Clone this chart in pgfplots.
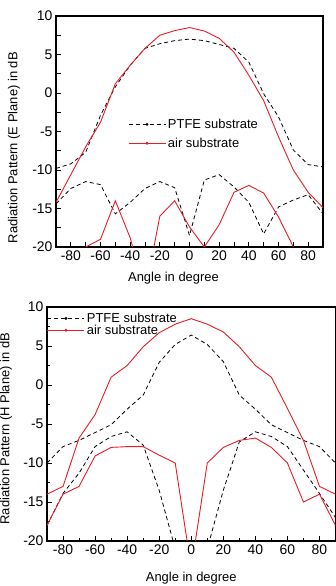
\documentclass[border=0pt]{standalone}
\usepackage{fontspec}
\setmainfont{Liberation Sans}
\usepackage{pgfplots}
\pgfplotsset{compat=1.18}
\definecolor{myred}{RGB}{232,28,36}
\pgfplotsset{
  common/.style={
    scale only axis,
    anchor=south west,
    xmin=-90, xmax=90, ymin=-20, ymax=10,
    ytick={-20,-15,...,10},
    minor ytick={-17.5,-12.5,...,7.5},
    xtick={-80,-60,...,80},
    minor xtick={-90,-70,...,90},
    xtick pos=left, ytick pos=left,
    tick align=inside,
    axis line style={line width=1.1bp},
    major tick style={line width=0.8bp,black},
    minor tick style={line width=0.8bp,black},
    major tick length=5bp,
    /pgf/number format/assume math mode=true,
    tick label style={font=\fontsize{14}{16}\selectfont},
    label style={font=\fontsize{13}{15}\selectfont},
    legend style={font=\fontsize{13}{15}\selectfont, draw=none, fill=none, inner sep=0pt, outer sep=0pt},
    legend cell align=left,
    legend image code/.code={\draw[#1] (0bp,0bp) -- (37bp,0bp); \fill[#1,solid] (18.5bp,0bp) circle (1bp);},
    ptfe/.style={black, dashed, dash pattern=on 4bp off 3bp, line width=0.8bp},
    air/.style={myred, line width=0.9bp},
  }
}
\begin{document}
\begin{tikzpicture}
\path[use as bounding box] (0,0) rectangle (336bp,586bp);
% ---------- E plane ----------
\begin{axis}[common,
  at={(56bp,339bp)}, width=267bp, height=231bp,
  minor tick length=5bp,
  xlabel={Angle in degree},
  ylabel={Radiation Pattern (E Plane) in dB},
  xlabel style={at={(rel axis cs:0.44,0)}, anchor=center, yshift=-31bp},
  ylabel style={at={(rel axis cs:0,0.43)}, anchor=center, yshift=42bp},
  legend style={at={(rel axis cs:0.27,0.563)}, anchor=north west, row sep=4bp},
]
\addplot[ptfe] coordinates {(-90,-9.8) (-80,-9.2) (-70,-7.7) (-60,-2.9) (-50,0.8) (-40,3.6) (-30,5.8) (-20,6.4) (-10,6.8) (0,7.0) (10,6.8) (20,6.3) (30,5.8) (40,4.0) (50,-0.1) (60,-3.1) (70,-7.4) (80,-9.3) (90,-9.6)};
\addlegendentry{PTFE substrate}
\addplot[air] coordinates {(-90,-14.2) (-80,-10.6) (-70,-7.0) (-60,-3.8) (-50,1.2) (-40,3.6) (-30,5.8) (-20,7.5) (-10,8.1) (0,8.5) (10,8.05) (20,7.1) (30,5.3) (40,2.3) (50,-1.0) (60,-5.7) (70,-10.0) (80,-12.9) (90,-14.9)};
\addlegendentry{air substrate}
\addplot[ptfe, forget plot] coordinates {(-90,-14.4) (-80,-12.4) (-70,-11.5) (-60,-11.9) (-50,-15.7) (-40,-14.2) (-30,-12.4) (-20,-11.5) (-10,-12.3) (0,-18.5) (10,-11.3) (20,-10.6) (30,-12.2) (40,-14.2) (50,-18.3) (60,-14.8) (70,-13.9) (80,-13.2) (90,-15.7)};
\addplot[air, forget plot] coordinates {(-70,-20.0) (-60,-19.0) (-50,-14.0) (-40,-18.8) (-30,-26.0) (-20,-16.0) (-10,-14.0) (0,-17.4) (10,-20.0) (20,-17.1) (30,-12.9) (40,-12.0) (50,-13.0) (60,-16.1) (70,-20.0) (80,-24.0) (90,-28.0)};
\end{axis}
% ---------- H plane ----------
\begin{axis}[common,
  at={(47bp,45bp)}, width=288.5bp, height=234bp,
  minor tick length=3bp,
  xlabel={Angle in degree},
  ylabel={Radiation Pattern (H Plane) in dB},
  xlabel style={at={(rel axis cs:0.5,0)}, anchor=center, yshift=-37bp},
  ylabel style={at={(rel axis cs:0,0.48)}, anchor=center, yshift=41bp},
  legend style={at={(rel axis cs:0,0.983)}, anchor=north west, row sep=-3bp},
]
\addplot[ptfe] coordinates {(-90,-10.0) (-80,-7.9) (-70,-7.1) (-60,-6.1) (-50,-5.1) (-40,-3.1) (-30,-1.3) (-20,2.9) (-10,5.2) (0,6.4) (10,5.2) (20,3.0) (30,-1.3) (40,-3.1) (50,-5.1) (60,-6.1) (70,-7.1) (80,-7.9) (90,-10.0)};
\addlegendentry{PTFE substrate}
\addplot[air] coordinates {(-90,-14.0) (-80,-13.0) (-70,-6.8) (-60,-3.8) (-50,1.0) (-40,2.5) (-30,4.9) (-20,6.7) (-10,7.8) (0,8.5) (10,7.8) (20,6.8) (30,4.9) (40,2.5) (50,1.0) (60,-3.0) (70,-7.1) (80,-13.0) (90,-14.0)};
\addlegendentry{air substrate}
\addplot[ptfe, forget plot] coordinates {(-90,-18.0) (-80,-13.9) (-70,-11.3) (-60,-7.9) (-50,-6.6) (-40,-6.0) (-30,-7.7) (-20,-13.5) (-10,-21.0) (0,-30.0) (10,-21.0) (20,-13.5) (30,-7.3) (40,-6.0) (50,-6.6) (60,-7.9) (70,-10.9) (80,-13.9) (90,-17.0)};
\addplot[air, forget plot] coordinates {(-90,-18.0) (-80,-14.0) (-70,-13.0) (-60,-9.1) (-50,-8.0) (-40,-7.9) (-30,-7.9) (-20,-9.0) (-10,-10.0) (0,-23.5) (10,-10.0) (20,-8.0) (30,-7.1) (40,-6.8) (50,-8.0) (60,-10.0) (70,-15.0) (80,-14.0) (90,-18.0)};
\end{axis}
\end{tikzpicture}
\end{document}
